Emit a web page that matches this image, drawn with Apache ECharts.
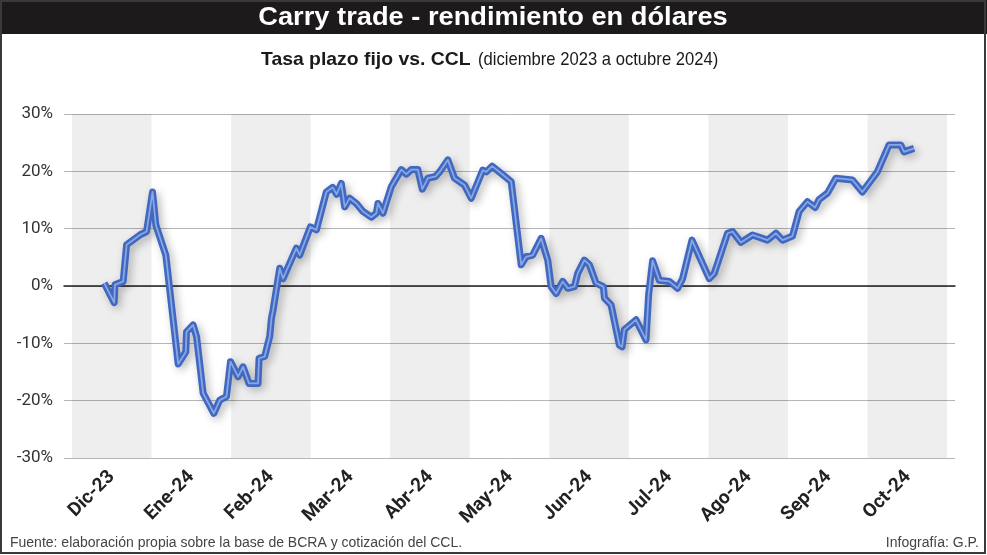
<!DOCTYPE html>
<html>
<head>
<meta charset="utf-8">
<script src="https://cdn.jsdelivr.net/npm/echarts@6/dist/echarts.min.js"></script>
<style>
html,body{margin:0;padding:0;background:#fff;}
#c{width:987px;height:555px;}
</style>
</head>
<body>
<div id="c"></div>
<script>
// Month categories (x-axis labels)
const months = ['Dic-23','Ene-24','Feb-24','Mar-24','Abr-24','May-24','Jun-24','Jul-24','Ago-24','Sep-24','Oct-24'];
// Position of each observation, in months since start of Dic-23
const tPos = [0.406,0.531,0.540,0.644,0.687,0.854,0.938,1.013,1.055,1.180,1.335,1.431,1.440,1.523,1.566,1.649,1.783,1.858,1.942,1.993,
  2.088,2.151,2.226,2.339,2.352,2.423,2.486,2.508,2.528,2.612,2.653,2.821,2.863,2.997,3.073,3.198,3.277,3.327,3.386,3.428,
  3.491,3.575,3.658,3.763,3.826,3.846,3.909,4.014,4.140,4.203,4.265,4.348,4.404,4.474,4.571,4.621,4.725,4.809,4.935,5.019,
  5.164,5.207,5.282,5.416,5.521,5.647,5.709,5.792,5.898,5.981,6.023,6.086,6.169,6.232,6.316,6.357,6.441,6.504,6.588,6.680,
  6.693,6.777,6.881,6.915,6.944,7.090,7.216,7.249,7.299,7.383,7.509,7.613,7.676,7.794,7.907,8.011,8.074,8.241,8.304,8.409,
  8.555,8.743,8.849,8.932,9.057,9.141,9.245,9.342,9.392,9.497,9.602,9.810,9.936,10.124,10.271,10.418,10.459,10.585];
// Carry trade yield in dollars (%)
const yields = [0.5,-2.9,0.2,0.8,7.2,8.9,9.5,16.4,10.6,5.4,-13.6,-11.5,-8.0,-6.8,-8.8,-18.7,-22.2,-19.9,-19.3,-13.2,
  -15.8,-14.1,-17.0,-17.0,-12.6,-12.3,-8.8,-5.6,-4.2,3.1,1.3,6.6,5.4,10.3,9.8,16.4,17.2,16.0,17.9,13.8,
  15.3,14.4,13.0,12.0,12.7,14.4,12.7,17.3,20.3,19.5,20.3,20.3,16.9,18.8,19.1,19.9,22.0,18.8,17.6,15.3,
  20.2,19.9,20.9,19.4,18.2,3.7,5.1,5.4,8.3,4.5,-0.1,-1.3,0.8,-0.4,-0.1,2.2,4.5,3.7,0.5,-0.1,
  -2.1,-3.3,-10.3,-10.6,-7.6,-5.9,-9.4,-1.5,4.4,1.0,0.8,-0.4,1.3,8.0,4.5,1.3,2.2,9.2,9.5,7.6,
  8.9,8.0,9.2,8.0,8.7,13.0,14.7,13.7,15.1,16.2,18.8,18.5,16.4,19.9,24.6,24.6,23.4,24.0];
const yTicks = [-30,-20,-10,0,10,20,30];

const sans = "'Liberation Sans',Arial,sans-serif";
const data = tPos.map((t,i)=>[t, yields[i]]);
const bands = [];
for (let m = 0; m < months.length; m += 2) bands.push([{xAxis: m}, {xAxis: m + 1}]);

const chart = echarts.init(document.getElementById('c'), null, {renderer:'canvas'});
chart.setOption({
  animation: false,
  backgroundColor: '#fff',
  grid: [
    {left: 64, right: 32, top: 114, bottom: 97},
    {left: 72, right: 39, top: 114, bottom: 97}
  ],
  xAxis: [
    {type: 'value', gridIndex: 0, min: -0.1, max: 11.1, splitLine: {show: false},
     axisLabel: {show: false}, axisTick: {show: false},
     axisLine: {show: true, onZero: true, lineStyle: {color: '#222', width: 1.5}}},
    {type: 'category', gridIndex: 1, data: months, boundaryGap: true,
     axisLine: {show: false}, axisTick: {show: false}, splitLine: {show: false},
     axisLabel: {rotate: 45, margin: 16, fontSize: 19, fontWeight: 'bold', color: '#222', fontFamily: 'Roboto'}}
  ],
  yAxis: [
    {type: 'value', gridIndex: 0, min: yTicks[0], max: yTicks[yTicks.length-1], interval: 10,
     axisLine: {show: false}, axisTick: {show: false},
     axisLabel: {formatter: '{value}%', fontSize: 17, color: '#333', margin: 11, fontFamily: 'Roboto'},
     splitLine: {lineStyle: {color: '#b5b5b5', width: 1}}},
    {type: 'value', gridIndex: 1, min: -30, max: 30, show: false}
  ],
  series: [
    {type: 'line', xAxisIndex: 0, yAxisIndex: 0, data: data, symbol: 'none', z: 3,
     lineStyle: {color: '#4068c0', width: 7, shadowBlur: 9, shadowColor: 'rgba(0,0,0,0.28)', shadowOffsetX: 3, shadowOffsetY: 3, join: 'round'},
     markArea: {silent: true, itemStyle: {color: 'rgba(0,0,0,0.065)'}, data: bands}},
    {type: 'line', xAxisIndex: 0, yAxisIndex: 0, data: data, symbol: 'none', z: 4,
     lineStyle: {color: '#88a7e4', width: 1.8, join: 'round'}}
  ],
  graphic: [
    {type: 'rect', left: 0, top: 0, shape: {width: 987, height: 34}, style: {fill: '#1c1a1a'}, z: 10},
    {type: 'rect', shape: {x: 1, y: 1, width: 984, height: 552}, style: {fill: null, stroke: '#3a3a3a', lineWidth: 2}, z: 10},
    {type: 'text', x: 493, y: 18, scaleX: 1.09, z: 11,
     style: {text: 'Carry trade - rendimiento en dólares', fill: '#fff', font: "bold 25px " + sans, textAlign: 'center', textVerticalAlign: 'middle'}},
    {type: 'text', x: 261, y: 60, scaleX: 1.02, z: 11,
     style: {text: 'Tasa plazo fijo vs. CCL', fill: '#1a1a1a', font: "bold 19px " + sans, textAlign: 'left', textVerticalAlign: 'middle'}},
    {type: 'text', x: 478, y: 60, scaleX: 0.875, z: 11,
     style: {text: '(diciembre 2023 a octubre 2024)', fill: '#1a1a1a', font: "19px " + sans, textAlign: 'left', textVerticalAlign: 'middle'}},
    {type: 'text', x: 10, y: 543, z: 11,
     style: {text: 'Fuente: elaboración propia sobre la base de BCRA y cotización del CCL.', fill: '#444', font: "14px " + sans, textVerticalAlign: 'middle'}},
    {type: 'text', x: 979, y: 543, z: 11,
     style: {text: 'Infografía: G.P.', fill: '#444', font: "14px " + sans, textAlign: 'right', textVerticalAlign: 'middle'}}
  ]
});
</script>
</body>
</html>
